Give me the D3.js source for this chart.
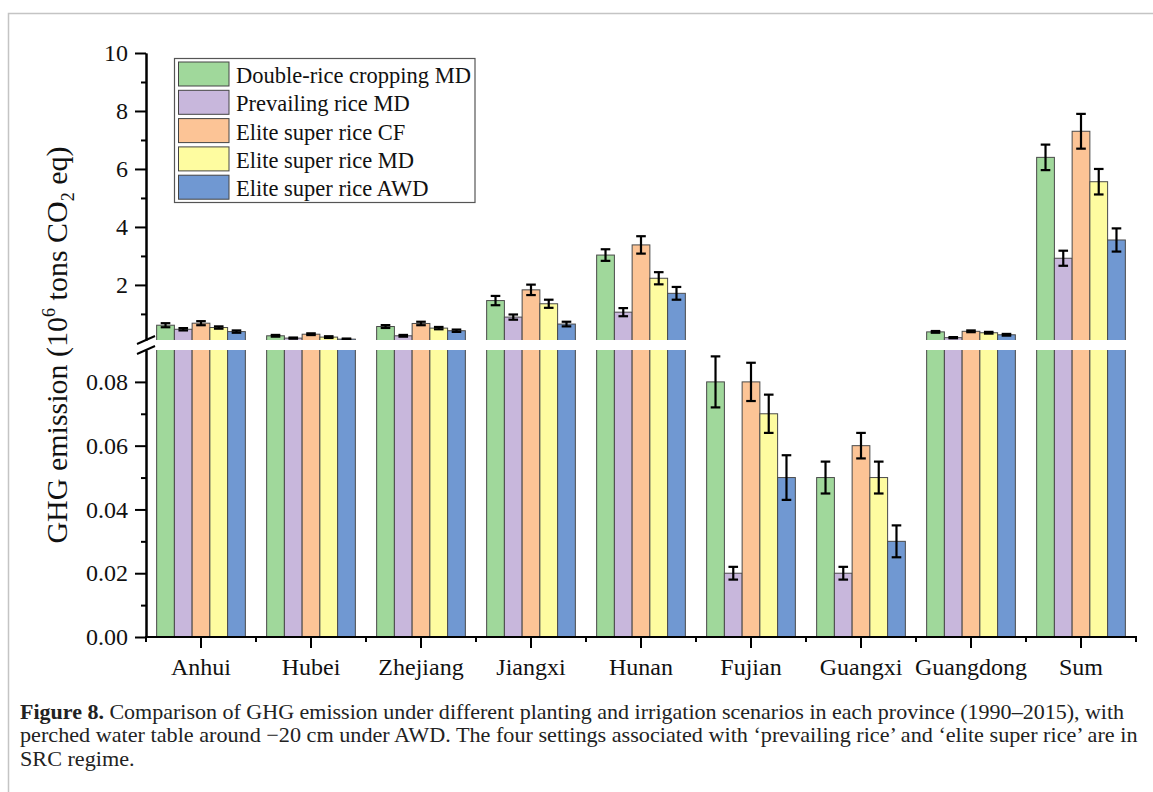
<!DOCTYPE html>
<html>
<head>
<meta charset="utf-8">
<script src="https://cdn.jsdelivr.net/npm/d3@7/dist/d3.min.js"></script>
<style>
  html, body { margin: 0; padding: 0; background: #fff; }
  svg { display: block; }
</style>
</head>
<body>
<svg id="chart" width="1153" height="792"></svg>
<script>
// Provinces plus the total, one group of bars each
const categories = ["Anhui", "Hubei", "Zhejiang", "Jiangxi", "Hunan", "Fujian", "Guangxi", "Guangdong", "Sum"];

// Scenario names (legend order)
const seriesNames = [
  "Double-rice cropping MD",
  "Prevailing rice MD",
  "Elite super rice CF",
  "Elite super rice MD",
  "Elite super rice AWD"
];

// GHG emission, 10^6 t CO2 eq, per province
const doubleRiceMD   = [0.61, 0.245, 0.565, 1.46, 3.03, 0.08, 0.05, 0.38, 6.40];
const prevailingMD   = [0.47, 0.165, 0.245, 0.89, 1.06, 0.02, 0.02, 0.18, 2.92];
const eliteCF        = [0.68, 0.30, 0.67, 1.83, 3.38, 0.08, 0.06, 0.40, 7.30];
const eliteMD        = [0.53, 0.20, 0.51, 1.35, 2.23, 0.07, 0.05, 0.35, 5.56];
const eliteAWD       = [0.39, 0.13, 0.42, 0.65, 1.71, 0.05, 0.03, 0.28, 3.55];

// Error bar half-lengths
const doubleRiceMDErr = [0.07, 0.03, 0.05, 0.16, 0.20, 0.008, 0.005, 0.03, 0.44];
const prevailingMDErr = [0.04, 0.02, 0.03, 0.09, 0.14, 0.002, 0.002, 0.02, 0.26];
const eliteCFErr      = [0.07, 0.03, 0.06, 0.18, 0.30, 0.006, 0.004, 0.03, 0.60];
const eliteMDErr      = [0.04, 0.03, 0.04, 0.14, 0.21, 0.006, 0.005, 0.03, 0.44];
const eliteAWDErr     = [0.04, 0.02, 0.04, 0.08, 0.22, 0.007, 0.005, 0.03, 0.40];

// Axis ticks for the two segments of the broken y axis
const upperTicks = [2, 4, 6, 8, 10];
const upperMinorTicks = [1, 3, 5, 7, 9];
const lowerTicks = [0, 0.02, 0.04, 0.06, 0.08];
const lowerMinorTicks = [0.01, 0.03, 0.05, 0.07];

const palette = ["#a0d89b", "#c8b7dc", "#fcc496", "#fefca0", "#7098d2"];

const valueArrays = [doubleRiceMD, prevailingMD, eliteCF, eliteMD, eliteAWD];
const errorArrays = [doubleRiceMDErr, prevailingMDErr, eliteCFErr, eliteMDErr, eliteAWDErr];

const records = [];
categories.forEach((cat, ci) => {
  seriesNames.forEach((s, si) => {
    records.push({ cat, series: s, si, value: valueArrays[si][ci], err: errorArrays[si][ci] });
  });
});

const svg = d3.select("#chart");
const serif = "'Liberation Serif', 'Times New Roman', serif";

// figure frame
svg.append("path")
  .attr("d", "M8.5,792 V13.5 H1153")
  .attr("fill", "none").attr("stroke", "#c4c4c4").attr("stroke-width", 1.5);

// scales
const breakLow = 0.09, breakHigh = 0.1;
const x0 = d3.scaleBand().domain(categories).range([146, 1136]).padding(0);
const x1 = d3.scaleBand().domain(seriesNames).range([0, x0.bandwidth()]).paddingInner(0).paddingOuter(0.6);
const yUp = d3.scaleLinear().domain([breakHigh, 10]).range([340, 53]);
const yLo = d3.scaleLinear().domain([0, breakLow]).range([637, 350]);
const color = d3.scaleOrdinal().domain(seriesNames).range(palette);

const defs = svg.append("defs");
defs.append("clipPath").attr("id", "clipUp")
  .append("rect").attr("x", 140).attr("y", 0).attr("width", 1010).attr("height", yUp(breakHigh));
defs.append("clipPath").attr("id", "clipLo")
  .append("rect").attr("x", 140).attr("y", yLo(breakLow)).attr("width", 1010).attr("height", 300);

const cap = 4.8;

// upper segment
const gUp = svg.append("g").attr("clip-path", "url(#clipUp)");
const upRecs = records.filter(d => d.value > breakHigh);
gUp.selectAll("rect").data(upRecs).join("rect")
  .attr("x", d => x0(d.cat) + x1(d.series))
  .attr("y", d => yUp(d.value))
  .attr("width", x1.bandwidth())
  .attr("height", d => yUp(breakHigh) - yUp(d.value) + 4)
  .attr("fill", d => color(d.series))
  .attr("stroke", "#4a4a4a").attr("stroke-width", 1);

function drawErrors(g, data, y) {
  const eb = g.selectAll("g.err").data(data).join("g").attr("class", "err")
    .attr("stroke", "#000").attr("stroke-width", 2.2).attr("fill", "none");
  const cx = d => x0(d.cat) + x1(d.series) + x1.bandwidth() / 2;
  eb.append("line")
    .attr("x1", cx).attr("x2", cx)
    .attr("y1", d => y(d.value - d.err)).attr("y2", d => y(d.value + d.err));
  eb.append("line")
    .attr("x1", d => cx(d) - cap).attr("x2", d => cx(d) + cap)
    .attr("y1", d => y(d.value + d.err)).attr("y2", d => y(d.value + d.err));
  eb.append("line")
    .attr("x1", d => cx(d) - cap).attr("x2", d => cx(d) + cap)
    .attr("y1", d => y(d.value - d.err)).attr("y2", d => y(d.value - d.err));
}
drawErrors(gUp, upRecs, yUp);

// lower segment
const gLo = svg.append("g").attr("clip-path", "url(#clipLo)");
gLo.selectAll("rect").data(records).join("rect")
  .attr("x", d => x0(d.cat) + x1(d.series))
  .attr("y", d => d.value > breakLow ? yLo(breakLow) - 4 : yLo(d.value))
  .attr("width", x1.bandwidth())
  .attr("height", d => yLo(0) - (d.value > breakLow ? yLo(breakLow) - 4 : yLo(d.value)))
  .attr("fill", d => color(d.series))
  .attr("stroke", "#4a4a4a").attr("stroke-width", 1);
drawErrors(gLo, records.filter(d => d.value <= breakLow), yLo);

// axes
function styleAxis(g) {
  g.attr("font-family", serif).attr("font-size", 24);
  g.selectAll("path.domain").attr("stroke", "#000").attr("stroke-width", 2);
  g.selectAll(".tick line").attr("stroke", "#000").attr("stroke-width", 2);
  g.selectAll("text").attr("fill", "#111");
}

const axUp = svg.append("g").attr("transform", "translate(146,0)")
  .call(d3.axisLeft(yUp).tickValues(upperTicks).tickSize(11).tickSizeOuter(0).tickPadding(7).tickFormat(d3.format("d")));
styleAxis(axUp);
const axUpMinor = svg.append("g").attr("transform", "translate(146,0)")
  .call(d3.axisLeft(yUp).tickValues(upperMinorTicks).tickSize(5).tickSizeOuter(0).tickFormat(""));
styleAxis(axUpMinor);

const axLo = svg.append("g").attr("transform", "translate(146,0)")
  .call(d3.axisLeft(yLo).tickValues(lowerTicks).tickSize(11).tickSizeOuter(0).tickPadding(7).tickFormat(d3.format(".2f")));
styleAxis(axLo);
const axLoMinor = svg.append("g").attr("transform", "translate(146,0)")
  .call(d3.axisLeft(yLo).tickValues(lowerMinorTicks).tickSize(5).tickSizeOuter(0).tickFormat(""));
styleAxis(axLoMinor);

// break marks on the y axis
const breakMarks = [yUp(breakHigh), yLo(breakLow)];
svg.selectAll("line.brk").data(breakMarks).join("line").attr("class", "brk")
  .attr("x1", 137).attr("x2", 155)
  .attr("y1", d => d + 4).attr("y2", d => d - 4)
  .attr("stroke", "#000").attr("stroke-width", 2);

const axX = svg.append("g").attr("transform", `translate(0,${yLo(0)})`)
  .call(d3.axisBottom(x0).tickSize(11).tickSizeOuter(0).tickPadding(10));
styleAxis(axX);
axX.select("path.domain").attr("d", `M${x0.range()[0] - 1},0H${x0.range()[1] + 1}`);

// short ticks at the group boundaries
const bounds = categories.map(c => x0(c)).concat([x0.range()[1]]);
svg.append("g").selectAll("line").data(bounds).join("line")
  .attr("x1", d => d).attr("x2", d => d)
  .attr("y1", yLo(0)).attr("y2", yLo(0) + 5)
  .attr("stroke", "#000").attr("stroke-width", 2);

// y axis title
const yTitle = svg.append("text")
  .attr("transform", `translate(67,${(yUp(10) + yLo(0)) / 2}) rotate(-90)`)
  .attr("text-anchor", "middle")
  .attr("font-family", serif).attr("font-size", 30).attr("fill", "#111");
yTitle.append("tspan").text("GHG emission (10");
yTitle.append("tspan").attr("font-size", 18).attr("dy", -12).text("6");
yTitle.append("tspan").attr("dy", 12).text(" tons CO");
yTitle.append("tspan").attr("font-size", 18).attr("dy", 7).text("2");
yTitle.append("tspan").attr("dy", -7).text(" eq)");

// legend
const legend = svg.append("g");
legend.append("rect")
  .attr("x", 174.5).attr("y", 58.5).attr("width", 300.5).attr("height", 144)
  .attr("fill", "#fff").attr("stroke", "#555").attr("stroke-width", 1.2);
const rows = legend.selectAll("g.row").data(seriesNames).join("g").attr("class", "row")
  .attr("transform", (d, i) => `translate(178.5,${62 + i * 28.3})`);
rows.append("rect")
  .attr("width", 50.5).attr("height", 24)
  .attr("fill", d => color(d)).attr("stroke", "#444").attr("stroke-width", 1);
rows.append("text")
  .attr("x", 57.5).attr("y", 21)
  .attr("font-family", serif).attr("font-size", 22.5).attr("fill", "#111")
  .text(d => d);

// caption
const captionLines = [
  { bold: "Figure 8.", text: " Comparison of GHG emission under different planting and irrigation scenarios in each province (1990\u20132015), with", width: 1105, y: 719 },
  { bold: "", text: "perched water table around \u221220 cm under AWD. The four settings associated with \u2018prevailing rice\u2019 and \u2018elite super rice\u2019 are in", width: 1118, y: 742 },
  { bold: "", text: "SRC regime.", width: null, y: 766 }
];
let lastScale = 1;
captionLines.forEach(line => {
  const t = svg.append("text")
    .attr("font-family", serif).attr("font-size", 21).attr("fill", "#222");
  if (line.bold) t.append("tspan").attr("font-weight", "bold").text(line.bold);
  t.append("tspan").text(line.text);
  const w = t.node().getComputedTextLength();
  const s = line.width ? line.width / w : lastScale;
  lastScale = s;
  t.attr("transform", `translate(20,${line.y}) scale(${s},1)`);
});
</script>
</body>
</html>
